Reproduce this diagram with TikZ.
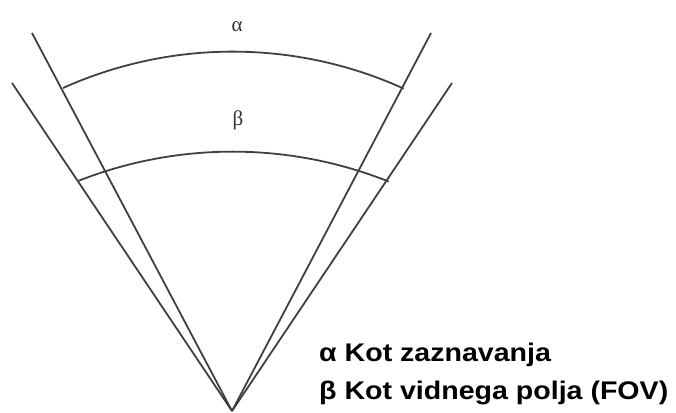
\documentclass[tikz,border=0pt]{standalone}
\usepackage{fontspec}
\setmainfont{Liberation Serif}
\newfontfamily\legendfont[FakeStretch=1.12]{Liberation Sans}
\begin{document}
\begin{tikzpicture}[x=1pt,y=1pt,
  ray/.style={line width=1.8pt,draw=black!75},
  arcline/.style={line width=1.8pt,draw=black!75},
  greek/.style={font=\fontsize{21}{24}\selectfont,inner sep=0pt,text=black!80},
  legend/.style={font=\legendfont\bfseries\fontsize{25.5}{30}\selectfont,inner sep=0pt,anchor=base west}]
\useasboundingbox (0,0) rectangle (676,412);
\coordinate (apex) at (232,1);
\coordinate (il) at (32,379);
\coordinate (ol) at (12,329);
\coordinate (ir) at (431,379);
\coordinate (or) at (452,329);
\coordinate (al) at (63,324);
\coordinate (bl) at (78,231);
\draw[ray] (apex) -- (il);
\draw[ray] (apex) -- (ol);
\draw[ray] (apex) -- (ir);
\draw[ray] (apex) -- (or);
\draw[arcline] (al) arc[start angle=114.2,end angle=65.6,radius=414];
\draw[arcline] (bl) arc[start angle=111.5,end angle=68.3,radius=422];
\node[greek] (alpha) at (237,385) {α};
\node[greek] (beta) at (238,292) {β};
\node[legend] (l1) at (319,51) {α Kot zaznavanja};
\node[legend] (l2) at (319,13) {β Kot vidnega polja (FOV)};
\end{tikzpicture}
\end{document}
